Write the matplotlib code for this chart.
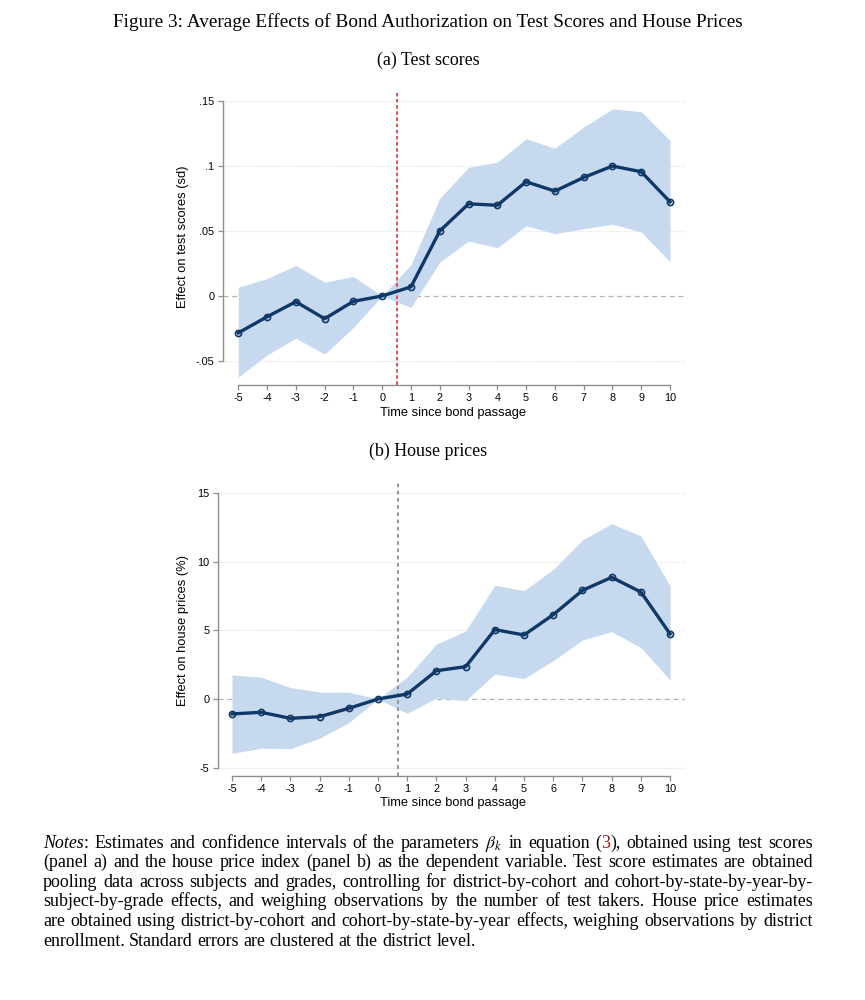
import matplotlib
matplotlib.use("Agg")
import matplotlib.pyplot as plt

# ---------------- data ----------------
periods = list(range(-5, 11))
xtick_labels = [str(p) for p in periods]

test_est = [-0.0284, -0.0160, -0.0044, -0.0175, -0.0041, 0.0, 0.0070, 0.0500,
            0.0709, 0.0698, 0.0879, 0.0807, 0.0912, 0.1000, 0.0956, 0.0724]
test_hi = [0.0067, 0.0134, 0.0235, 0.0106, 0.0150, 0.0, 0.0240, 0.0750,
           0.0990, 0.1030, 0.1210, 0.1137, 0.1300, 0.1440, 0.1418, 0.1196]
test_lo = [-0.0624, -0.0454, -0.0325, -0.0448, -0.0242, 0.0, -0.0088, 0.0260,
           0.0423, 0.0371, 0.0541, 0.0479, 0.0518, 0.0552, 0.0492, 0.0265]
test_yticks = [-0.05, 0.0, 0.05, 0.10, 0.15]
test_yticklabels = ['-.05', '0', '.05', '.1', '.15']

house_est = [-1.09, -0.97, -1.41, -1.29, -0.68, 0.0, 0.36, 2.06,
             2.35, 5.05, 4.66, 6.14, 7.91, 8.86, 7.79, 4.73]
house_hi = [1.75, 1.58, 0.83, 0.51, 0.49, 0.0, 1.60, 4.00,
            4.95, 8.28, 7.89, 9.44, 11.58, 12.77, 11.87, 8.23]
house_lo = [-3.96, -3.59, -3.62, -2.86, -1.72, 0.0, -1.04, 0.07,
            -0.12, 1.82, 1.48, 2.79, 4.30, 4.90, 3.74, 1.38]
house_yticks = [-5, 0, 5, 10, 15]
house_yticklabels = ['-5', '0', '5', '10', '15']

fig_title = "Figure 3: Average Effects of Bond Authorization on Test Scores and House Prices"
sub_a = "(a) Test scores"
sub_b = "(b) House prices"
xlabel = "Time since bond passage"
ylabel_a = "Effect on test scores (sd)"
ylabel_b = "Effect on house prices (%)"

# ---------------- figure ----------------
W, H = 865, 1000
fig = plt.figure(figsize=(W / 100, H / 100), dpi=100)
plt.rcParams['mathtext.fontset'] = 'stix'

def fx(x):
    return x / W

def fy(y):
    return 1 - y / H

SANS = 'Liberation Sans'
SERIF = 'Liberation Serif'
NAVY = '#0f3768'
FILL = '#c7d9ef'


def panel(rect, est, lo, hi, yticks, yticklabels, xlim, ylim, vline_x, vcolor, vdash):
    l, r, t, b = rect
    ax = fig.add_axes([fx(l), fy(b), (r - l) / W, (b - t) / H])
    ax.set_xlim(*xlim)
    ax.set_ylim(*ylim)
    for yt in yticks:
        if yt == 0:
            ax.axhline(0, color='#b3b3b3', lw=0.9, ls=(0, (4, 3)), zorder=0.5)
        else:
            ax.axhline(yt, color='#e4e4e4', lw=0.9, ls=(0, (1, 1)), zorder=0.5)
    ax.fill_between(periods, lo, hi, color=FILL, lw=0, zorder=1)
    ax.axvline(vline_x, color=vcolor, lw=1.3, ls=vdash, zorder=2)
    ax.plot(periods, est, color=NAVY, lw=2.4, marker='o', ms=4.4,
            mfc='none', mec=NAVY, mew=1.2, zorder=3, clip_on=False)
    for s in ['top', 'right']:
        ax.spines[s].set_visible(False)
    for s in ['left', 'bottom']:
        ax.spines[s].set_color('#8e8e8e')
        ax.spines[s].set_linewidth(1.0)
    ax.spines['bottom'].set_bounds(periods[0], periods[-1])
    ax.spines['left'].set_bounds(yticks[0], yticks[-1])
    ax.set_xticks(periods)
    ax.set_xticklabels(xtick_labels, fontsize=7.8, family=SANS)
    ax.set_yticks(yticks)
    ax.set_yticklabels(yticklabels, fontsize=7.8, family=SANS)
    ax.tick_params(axis='both', length=3.6, width=0.9, color='#8e8e8e', pad=2.5)
    ax.set_facecolor('none')
    return ax


ax1 = panel((223, 685, 93, 385), test_est, test_lo, test_hi, test_yticks, test_yticklabels,
            (-5.53, 10.52), (-0.0685, 0.1562), 0.5, '#e2404f', (0, (2, 1.4)))
ax2 = panel((218, 685, 483, 776), house_est, house_lo, house_hi, house_yticks, house_yticklabels,
            (-5.48, 10.51), (-5.61, 15.73), 0.7, '#8a8a8a', (0, (2, 2)))

# axis labels
fig.text(fx(453), fy(413), xlabel, ha='center', va='center', fontsize=9.3, family=SANS)
fig.text(fx(183), fy(237), ylabel_a, ha='center', va='center', rotation=90, fontsize=9.3, family=SANS)
fig.text(fx(453), fy(803), xlabel, ha='center', va='center', fontsize=9.3, family=SANS)
fig.text(fx(183), fy(630), ylabel_b, ha='center', va='center', rotation=90, fontsize=9.3, family=SANS)

renderer = fig.canvas.get_renderer()


def text_width(s, **kw):
    t = fig.text(0, 0, s, **kw)
    w = t.get_window_extent(renderer).width
    t.remove()
    return w

# title fitted to width
base = 12
tw = text_width(fig_title, fontsize=base, family=SERIF)
tsize = base * 630 / tw
fig.text(fx(428), fy(22), fig_title, ha='center', va='center', fontsize=tsize, family=SERIF)
fig.text(fx(428), fy(60), sub_a, ha='center', va='center', fontsize=tsize * 0.93, family=SERIF)
fig.text(fx(428), fy(451), sub_b, ha='center', va='center', fontsize=tsize * 0.93, family=SERIF)

# ---------------- notes (justified) ----------------
RED = '#a01010'
notes_lines = [
    [[("Notes", {'style': 'italic'}), (":", {})], [("Estimates", {})], [("and", {})], [("confidence", {})],
     [("intervals", {})], [("of", {})], [("the", {})], [("parameters", {})], [(r"$\beta_k$", {})],
     [("in", {})], [("equation", {})], [("(", {}), ("3", {'color': RED}), ("),", {})],
     [("obtained", {})], [("using", {})], [("test", {})], [("scores", {})]],
    [[(w, {})] for w in "(panel a) and the house price index (panel b) as the dependent variable.  Test score estimates are obtained".split()],
    [[(w, {})] for w in "pooling data across subjects and grades, controlling for district-by-cohort and cohort-by-state-by-year-by-".split()],
    [[(w, {})] for w in "subject-by-grade effects, and weighing observations by the number of test takers.  House price estimates".split()],
    [[(w, {})] for w in "are obtained using district-by-cohort and cohort-by-state-by-year effects, weighing observations by district".split()],
    [[(w, {})] for w in "enrollment. Standard errors are clustered at the district level.".split()],
]

NX0, NX1 = 43, 813
nb = 12
space_w = text_width("a a", fontsize=nb, family=SERIF) - 2 * text_width("a", fontsize=nb, family=SERIF)


def word_w(word, fs):
    return sum(text_width(s, fontsize=fs, family=SERIF, **p) for s, p in word)

maxw = 0
for line in notes_lines[:-1]:
    ww = sum(word_w(w, nb) for w in line) + space_w * (len(line) - 1)
    maxw = max(maxw, ww)
nfs = nb * min(1.25, 0.99 * (NX1 - NX0) / maxw)

y0, dy = 847.5, 19.6
for i, line in enumerate(notes_lines):
    widths = [word_w(w, nfs) for w in line]
    if i < len(notes_lines) - 1:
        gap = (NX1 - NX0 - sum(widths)) / (len(line) - 1)
    else:
        gap = space_w * nfs / nb
    x = NX0
    yb = y0 + i * dy
    for word, wd in zip(line, widths):
        xx = x
        for s, p in word:
            t = fig.text(fx(xx), fy(yb), s, ha='left', va='baseline', fontsize=nfs, family=SERIF, **p)
            xx += t.get_window_extent(renderer).width
        x += wd + gap

fig.savefig("out.png", dpi=100)
